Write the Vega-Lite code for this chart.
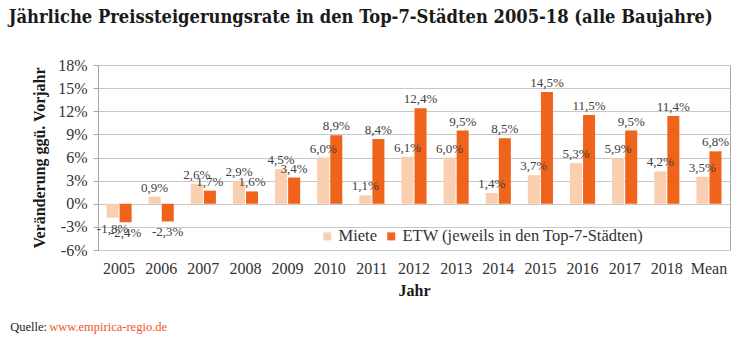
{
  "$schema": "https://vega.github.io/schema/vega-lite/v6.json",
  "padding": {"left": 8, "top": 7, "right": 18, "bottom": 0},
  "config": {
    "locale": {"number": {"decimal": ",", "thousands": ".", "grouping": [3], "currency": ["", " €"], "minus": "-"}},
    "view": {"stroke": "#A6A6A6", "strokeWidth": 1},
    "font": "Liberation Serif",
    "concat": {"spacing": 0}
  },
  "title": {"text": "Quelle:", "orient": "bottom", "anchor": "start", "font": "Liberation Serif", "fontSize": 12.5, "fontWeight": "normal", "color": "#222222", "offset": 8, "dx": 2, "dy": -20},
  "vconcat": [
    {
      "title": {"text": "www.empirica-regio.de", "orient": "bottom", "anchor": "start", "font": "Liberation Serif", "fontSize": 12.5, "fontWeight": "normal", "color": "#F0552A", "offset": 22, "dx": 41},
      "vconcat": [
        {
          "width": 632,
          "height": 185,
          "title": {"text": "Jährliche Preissteigerungsrate in den Top-7-Städten 2005-18 (alle Baujahre)", "anchor": "start", "font": "DejaVu Serif Condensed", "fontSize": 18.2, "fontWeight": "bold", "color": "#1A1A1A", "offset": 30, "dx": -23},
          "data": {"values": [
            {"Jahr": "2005", "Serie": "Miete", "Wert": -0.018},
            {"Jahr": "2005", "Serie": "ETW (jeweils in den Top-7-Städten)", "Wert": -0.024},
            {"Jahr": "2006", "Serie": "Miete", "Wert": 0.009},
            {"Jahr": "2006", "Serie": "ETW (jeweils in den Top-7-Städten)", "Wert": -0.023},
            {"Jahr": "2007", "Serie": "Miete", "Wert": 0.026},
            {"Jahr": "2007", "Serie": "ETW (jeweils in den Top-7-Städten)", "Wert": 0.017},
            {"Jahr": "2008", "Serie": "Miete", "Wert": 0.029},
            {"Jahr": "2008", "Serie": "ETW (jeweils in den Top-7-Städten)", "Wert": 0.016},
            {"Jahr": "2009", "Serie": "Miete", "Wert": 0.045},
            {"Jahr": "2009", "Serie": "ETW (jeweils in den Top-7-Städten)", "Wert": 0.034},
            {"Jahr": "2010", "Serie": "Miete", "Wert": 0.060},
            {"Jahr": "2010", "Serie": "ETW (jeweils in den Top-7-Städten)", "Wert": 0.089},
            {"Jahr": "2011", "Serie": "Miete", "Wert": 0.011},
            {"Jahr": "2011", "Serie": "ETW (jeweils in den Top-7-Städten)", "Wert": 0.084},
            {"Jahr": "2012", "Serie": "Miete", "Wert": 0.061},
            {"Jahr": "2012", "Serie": "ETW (jeweils in den Top-7-Städten)", "Wert": 0.124},
            {"Jahr": "2013", "Serie": "Miete", "Wert": 0.060},
            {"Jahr": "2013", "Serie": "ETW (jeweils in den Top-7-Städten)", "Wert": 0.095},
            {"Jahr": "2014", "Serie": "Miete", "Wert": 0.014},
            {"Jahr": "2014", "Serie": "ETW (jeweils in den Top-7-Städten)", "Wert": 0.085},
            {"Jahr": "2015", "Serie": "Miete", "Wert": 0.037},
            {"Jahr": "2015", "Serie": "ETW (jeweils in den Top-7-Städten)", "Wert": 0.145},
            {"Jahr": "2016", "Serie": "Miete", "Wert": 0.053},
            {"Jahr": "2016", "Serie": "ETW (jeweils in den Top-7-Städten)", "Wert": 0.115},
            {"Jahr": "2017", "Serie": "Miete", "Wert": 0.059},
            {"Jahr": "2017", "Serie": "ETW (jeweils in den Top-7-Städten)", "Wert": 0.095},
            {"Jahr": "2018", "Serie": "Miete", "Wert": 0.042},
            {"Jahr": "2018", "Serie": "ETW (jeweils in den Top-7-Städten)", "Wert": 0.114},
            {"Jahr": "Mean", "Serie": "Miete", "Wert": 0.035},
            {"Jahr": "Mean", "Serie": "ETW (jeweils in den Top-7-Städten)", "Wert": 0.068}
          ]},
          "encoding": {
            "x": {
              "field": "Jahr", "type": "nominal", "sort": null,
              "scale": {"paddingInner": 0, "paddingOuter": 0},
              "axis": {"labelAngle": 0, "ticks": false, "domain": false, "labelPadding": 10, "labelFont": "Liberation Serif", "labelFontSize": 16, "labelColor": "#333333", "title": "Jahr", "titleFont": "Liberation Serif", "titleFontSize": 16, "titleFontWeight": "bold", "titleColor": "#1A1A1A", "titlePadding": 6}
            },
            "y": {
              "field": "Wert", "type": "quantitative",
              "scale": {"domain": [-0.06, 0.18], "nice": false, "zero": false},
              "axis": {"values": [-0.06, -0.03, 0, 0.03, 0.06, 0.09, 0.12, 0.15, 0.18], "labelOverlap": false, "format": ".0%", "grid": true, "gridColor": "#C8C8C8", "tickColor": "#A6A6A6", "tickSize": 5, "domainColor": "#A6A6A6", "labelPadding": 6, "labelFont": "Liberation Serif", "labelFontSize": 16, "labelColor": "#333333", "title": "Veränderung ggü. Vorjahr", "titleFont": "Liberation Serif", "titleFontSize": 16, "titleFontWeight": "bold", "titleColor": "#1A1A1A", "titlePadding": 10}
            },
            "xOffset": {"field": "Serie", "type": "nominal", "sort": ["Miete", "ETW (jeweils in den Top-7-Städten)"], "scale": {"paddingOuter": 0.65, "paddingInner": 0.08}}
          },
          "layer": [
            {
              "mark": {"type": "bar"},
              "encoding": {
                "color": {
                  "field": "Serie", "type": "nominal",
                  "sort": ["Miete", "ETW (jeweils in den Top-7-Städten)"],
                  "scale": {"domain": ["Miete", "ETW (jeweils in den Top-7-Städten)"], "range": ["#F9CFAF", "#F0631B"]},
                  "legend": {"title": null, "orient": "none", "direction": "horizontal", "legendX": 221, "legendY": 163, "symbolType": "square", "symbolSize": 64, "symbolStrokeWidth": 0, "labelFont": "Liberation Serif", "labelFontSize": 16.5, "labelColor": "#333333", "labelLimit": 400, "labelOffset": 3, "columnPadding": 6, "symbolOffset": 0}
                }
              }
            },
            {
              "transform": [{"filter": "datum.Wert >= 0"}],
              "mark": {"type": "text", "baseline": "bottom", "dy": -2, "font": "Liberation Serif", "fontSize": 13, "color": "#404040"},
              "encoding": {
                "text": {"field": "Wert", "type": "quantitative", "format": ".1%"}
              }
            },
            {
              "transform": [{"filter": "datum.Wert < 0"}],
              "mark": {"type": "text", "baseline": "top", "dy": 5, "font": "Liberation Serif", "fontSize": 13, "color": "#404040"},
              "encoding": {
                "text": {"field": "Wert", "type": "quantitative", "format": ".1%"}
              }
            },
            {
              "data": {"values": [{}]},
              "mark": {"type": "rule", "color": "#A6A6A6", "strokeWidth": 1},
              "encoding": {
                "x": {"datum": "Mean", "bandPosition": 0},
                "y": {"datum": 0.18},
                "y2": {"datum": -0.06},
                "xOffset": null
              }
            }
          ]
        }
      ]
    }
  ]
}
